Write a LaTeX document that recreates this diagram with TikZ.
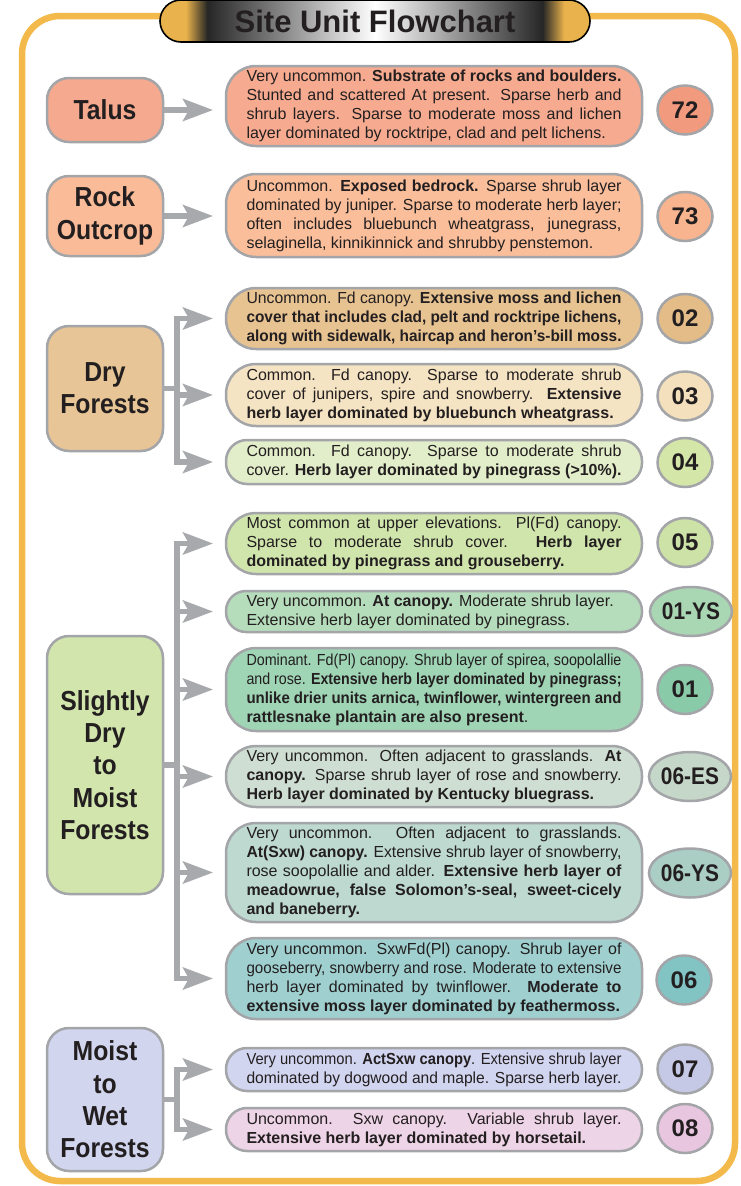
\documentclass[tikz,border=0pt]{standalone}
\usepackage{fontspec}
\setmainfont{Liberation Sans}
\usepackage{graphicx}
\usetikzlibrary{arrows.meta,shapes.geometric}
\setlength\parindent{0pt}

\definecolor{framec}{HTML}{F3BA4B}
\definecolor{tgold}{HTML}{E9B24C}
\definecolor{arrowgray}{HTML}{A7A9AC}
\definecolor{bordergray}{HTML}{A3A5A8}
\definecolor{textc}{HTML}{231F20}
\definecolor{talusL}{HTML}{F5A98E}
\definecolor{talusD}{HTML}{F6AB90}
\definecolor{b72c}{HTML}{F19A7E}
\definecolor{rockL}{HTML}{FABC98}
\definecolor{rockD}{HTML}{FABE9A}
\definecolor{b73c}{HTML}{F8B48E}
\definecolor{dryL}{HTML}{E8C596}
\definecolor{d02c}{HTML}{E8C392}
\definecolor{b02c}{HTML}{E4BC88}
\definecolor{d03c}{HTML}{F5E4C3}
\definecolor{b03c}{HTML}{F4E0BC}
\definecolor{d04c}{HTML}{E2EDC9}
\definecolor{b04c}{HTML}{D4E6A8}
\definecolor{slightL}{HTML}{D1E5AC}
\definecolor{d05c}{HTML}{D0E5AC}
\definecolor{b05c}{HTML}{CCE2A6}
\definecolor{d01ysc}{HTML}{B6DDBB}
\definecolor{b01ysc}{HTML}{A9D6B3}
\definecolor{d01c}{HTML}{9FD4B5}
\definecolor{b01c}{HTML}{89CBA8}
\definecolor{d06esc}{HTML}{CFDED2}
\definecolor{b06esc}{HTML}{C5D7C8}
\definecolor{d06ysc}{HTML}{BDD9D0}
\definecolor{b06ysc}{HTML}{AACEC3}
\definecolor{d06c}{HTML}{9FD0CF}
\definecolor{b06c}{HTML}{82C3C4}
\definecolor{moistL}{HTML}{D1D5EE}
\definecolor{d07c}{HTML}{D2D5EF}
\definecolor{b07c}{HTML}{C6C9E6}
\definecolor{d08c}{HTML}{EED4E7}
\definecolor{b08c}{HTML}{E9C6DF}

\pgfdeclarehorizontalshading{titleshade}{100bp}{color(0bp)=(tgold); color(25bp)=(tgold); color(28bp)=(tgold); color(30.5bp)=(black!85); color(50bp)=(white); color(69.5bp)=(black!85); color(72bp)=(tgold); color(75bp)=(tgold); color(100bp)=(tgold)}

\newlength\lw \setlength\lw{375pt}
\newlength\natw
\newcommand\J[1]{\leavevmode\spaceskip=0pt\xspaceskip=0pt\settowidth\natw{#1}\ifdim\natw>\lw\resizebox{\lw}{\height}{#1}\else\hbox to\lw{#1}\fi}
\newcommand\Rl[1]{\leavevmode\spaceskip=0pt\xspaceskip=0pt\settowidth\natw{#1}\ifdim\natw>\lw\resizebox{\lw}{\height}{#1}\else\hbox{#1}\fi}
\newcommand\Nw[1]{\scalebox{0.9}[1]{#1}}
\newcommand\Bw[1]{\scalebox{0.87}[1]{#1}}

\tikzset{
  framestyle/.style={draw=framec, line width=6.5pt, rounded corners=38pt},
  titlebox/.style={shade, shading=titleshade, draw=black, line width=1.6pt,
    minimum width=430pt, minimum height=42pt, rounded corners=21pt,
    font=\fontsize{31}{36}\selectfont\bfseries, text=textc, inner sep=0pt},
  catbox/.style={draw=bordergray, line width=2.5pt, rounded corners=22pt,
    minimum width=116pt, inner sep=0pt, align=center, text=textc,
    font=\fontsize{27.5}{32.3}\selectfont\bfseries},
  desc/.style={draw=bordergray, line width=2.5pt, text width=375pt,
    minimum width=416pt, inner xsep=0pt, inner ysep=0pt, align=left,
    text=textc, font=\fontsize{16}{19}\selectfont},
  badge/.style={ellipse, draw=bordergray, line width=2.5pt, minimum width=55pt,
    minimum height=49pt, inner sep=0pt, text=textc,
    font=\fontsize{24}{28}\selectfont\bfseries},
  bus/.style={draw=arrowgray, line width=5.5pt, line cap=rect},
  conn/.style={draw=arrowgray, line width=5.5pt,
    -{Stealth[length=30pt, width=22pt, inset=6pt]}}
}

\begin{document}
\begin{tikzpicture}[x=1pt, y=-1pt]
\useasboundingbox (0,0) rectangle (741,1186);

% frame and title
\draw[framestyle] (22,16) rectangle (735,1181);
\node[titlebox] (title) at (375,21) {Site Unit Flowchart};

\coordinate (tipx) at (213,0);
\coordinate (busx) at (177,0);

% category boxes
\node[catbox, fill=talusL, minimum height=64pt] (talus) at (105,110) {\Nw{Talus}};
\node[catbox, fill=rockL, minimum height=80pt] (rock) at (105,216) {\Nw{Rock}\\\Nw{Outcrop}};
\node[catbox, fill=dryL, minimum height=125pt] (dry) at (105,388.5) {\Nw{Dry}\\\Nw{Forests}};
\node[catbox, fill=slightL, minimum height=258pt] (slight) at (105,765) {\Nw{Slightly}\\\Nw{Dry}\\\Nw{to}\\\Nw{Moist}\\\Nw{Forests}};
\node[catbox, fill=moistL, minimum height=143pt] (moist) at (105,1099.5) {\Nw{Moist}\\\Nw{to}\\\Nw{Wet}\\\Nw{Forests}};

% description boxes
\node[desc, fill=talusD, minimum height=80pt, rounded corners=30pt] (d72) at (434,106) {%
\J{Very uncommon. \textbf{Substrate of rocks and boulders.}}\\
\J{Stunted and scattered At present. Sparse herb and}\\
\J{shrub layers. Sparse to moderate moss and lichen}\\
\Rl{layer dominated by rocktripe, clad and pelt lichens.}};

\node[desc, fill=rockD, minimum height=83pt, rounded corners=30pt] (d73) at (434,215.5) {%
\J{Uncommon. \textbf{Exposed bedrock.} Sparse shrub layer}\\
\J{dominated by juniper. Sparse to moderate herb layer;}\\
\J{often includes bluebunch wheatgrass, junegrass,}\\
\Rl{selaginella, kinnikinnick and shrubby penstemon.}};

\node[desc, fill=d02c, minimum height=61pt, rounded corners=30pt] (d02) at (434,318.5) {%
\J{Uncommon. Fd canopy. \textbf{Extensive moss and lichen}}\\
\J{\textbf{cover that includes clad, pelt and rocktripe lichens,}}\\
\Rl{\textbf{along with sidewalk, haircap and heron’s-bill moss.}}};

\node[desc, fill=d03c, minimum height=62pt, rounded corners=30pt] (d03) at (434,395) {%
\J{Common. Fd canopy. Sparse to moderate shrub}\\
\J{cover of junipers, spire and snowberry. \textbf{Extensive}}\\
\Rl{\textbf{herb layer dominated by bluebunch wheatgrass.}}};

\node[desc, fill=d04c, minimum height=44pt, rounded corners=21pt] (d04) at (434,462) {%
\J{Common. Fd canopy. Sparse to moderate shrub}\\
\Rl{cover. \textbf{Herb layer dominated by pinegrass (>10\%).}}};

\node[desc, fill=d05c, minimum height=61pt, rounded corners=30pt] (d05) at (434,543.5) {%
\J{Most common at upper elevations. Pl(Fd) canopy.}\\
\J{Sparse to moderate shrub cover. \textbf{Herb layer}}\\
\Rl{\textbf{dominated by pinegrass and grouseberry.}}};

\node[desc, fill=d01ysc, minimum height=41pt, rounded corners=20pt] (d01ys) at (434,611.5) {%
\Rl{Very uncommon. \textbf{At canopy.} Moderate shrub layer.}\\
\Rl{Extensive herb layer dominated by pinegrass.}};

\node[desc, fill=d01c, minimum height=83pt, rounded corners=30pt] (d01) at (434,689.5) {%
\J{Dominant. Fd(Pl) canopy. Shrub layer of spirea, soopolallie}\\
\J{and rose. \textbf{Extensive herb layer dominated by pinegrass;}}\\
\J{\textbf{unlike drier units arnica, twinflower, wintergreen and}}\\
\Rl{\textbf{rattlesnake plantain are also present}.}};

\node[desc, fill=d06esc, minimum height=61pt, rounded corners=30pt] (d06es) at (434,776.5) {%
\J{Very uncommon. Often adjacent to grasslands. \textbf{At}}\\
\J{\textbf{canopy.} Sparse shrub layer of rose and snowberry.}\\
\Rl{\textbf{Herb layer dominated by Kentucky bluegrass.}}};

\node[desc, fill=d06ysc, minimum height=99pt, rounded corners=30pt] (d06ys) at (434,872.5) {%
\J{Very uncommon. Often adjacent to grasslands.}\\
\J{\textbf{At(Sxw) canopy.} Extensive shrub layer of snowberry,}\\
\J{rose soopolallie and alder. \textbf{Extensive herb layer of}}\\
\J{\textbf{meadowrue, false Solomon’s-seal, sweet-cicely}}\\
\Rl{\textbf{and baneberry.}}};

\node[desc, fill=d06c, minimum height=81pt, rounded corners=30pt] (d06) at (434,978.5) {%
\J{Very uncommon. SxwFd(Pl) canopy. Shrub layer of}\\
\J{gooseberry, snowberry and rose. Moderate to extensive}\\
\J{herb layer dominated by twinflower. \textbf{Moderate to}}\\
\Rl{\textbf{extensive moss layer dominated by feathermoss.}}};

\node[desc, fill=d07c, minimum height=43pt, rounded corners=21pt] (d07) at (434,1069.5) {%
\J{Very uncommon. \textbf{ActSxw canopy}. Extensive shrub layer}\\
\Rl{dominated by dogwood and maple. Sparse herb layer.}};

\node[desc, fill=d08c, minimum height=43pt, rounded corners=21pt] (d08) at (434,1129.5) {%
\J{Uncommon. Sxw canopy. Variable shrub layer.}\\
\Rl{\textbf{Extensive herb layer dominated by horsetail.}}};

% badges
\node[badge, fill=b72c] (b72) at (685,110) {72};
\node[badge, fill=b73c] (b73) at (685,216.5) {73};
\node[badge, fill=b02c] (b02) at (685,318.5) {02};
\node[badge, fill=b03c] (b03) at (685,396) {03};
\node[badge, fill=b04c] (b04) at (685,462.5) {04};
\node[badge, fill=b05c] (b05) at (685,542.5) {05};
\node[badge, fill=b01ysc, minimum width=70pt] (b01ys) at (691,611.5) {\Bw{01-YS}};
\node[badge, fill=b01c] (b01) at (685,689.5) {01};
\node[badge, fill=b06esc, minimum width=72pt] (b06es) at (690,776.5) {\Bw{06-ES}};
\node[badge, fill=b06ysc, minimum width=72pt] (b06ys) at (690,873) {\Bw{06-YS}};
\node[badge, fill=b06c] (b06) at (684,980) {06};
\node[badge, fill=b07c] (b07) at (685,1069) {07};
\node[badge, fill=b08c] (b08) at (685,1128.5) {08};

% connectors
\draw[conn] (talus.east) -- (talus.east -| tipx);
\draw[conn] (rock.east) -- (rock.east -| tipx);

\draw[bus] (dry.east) -- (dry.east -| busx);
\draw[bus] (busx |- d02) -- (busx |- d04);
\draw[conn] (busx |- d02) -- (tipx |- d02);
\draw[conn] (busx |- d03) -- (tipx |- d03);
\draw[conn] (busx |- d04) -- (tipx |- d04);

\draw[bus] (slight.east) -- (slight.east -| busx);
\draw[bus] (busx |- d05) -- (busx |- d06);
\draw[conn] (busx |- d05) -- (tipx |- d05);
\draw[conn] (busx |- d01ys) -- (tipx |- d01ys);
\draw[conn] (busx |- d01) -- (tipx |- d01);
\draw[conn] (busx |- d06es) -- (tipx |- d06es);
\draw[conn] (busx |- d06ys) -- (tipx |- d06ys);
\draw[conn] (busx |- d06) -- (tipx |- d06);

\draw[bus] (moist.east) -- (moist.east -| busx);
\draw[bus] (busx |- d07) -- (busx |- d08);
\draw[conn] (busx |- d07) -- (tipx |- d07);
\draw[conn] (busx |- d08) -- (tipx |- d08);
\end{tikzpicture}
\end{document}
